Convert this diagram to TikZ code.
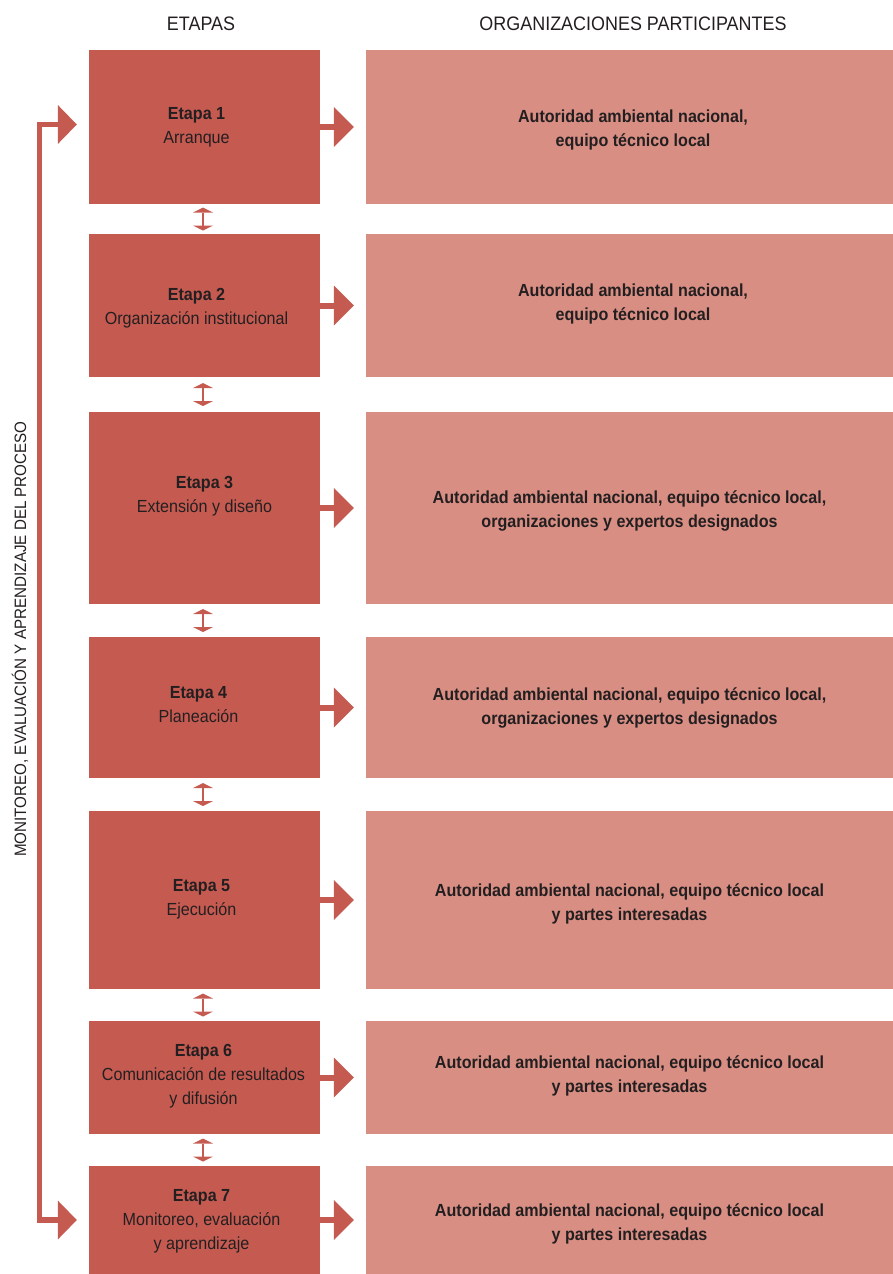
\documentclass[tikz,border=0pt]{standalone}
\usepackage{fontspec}
\setmainfont[FakeStretch=0.92]{Liberation Sans}
\usetikzlibrary{arrows.meta,calc}
\definecolor{stagered}{HTML}{C55A51}
\definecolor{orgpink}{HTML}{D98E83}
\definecolor{ink}{HTML}{231F20}
\begin{document}
\begin{tikzpicture}[x=1pt,y=-1pt,
  stagebox/.style={fill=stagered, minimum width=231pt, inner sep=0pt},
  orgbox/.style={fill=orgpink, minimum width=527pt, inner sep=0pt},
  stagetext/.style={align=center, inner sep=0pt, text=ink, font=\fontsize{17.5}{24}\selectfont},
  orgtext/.style={align=center, inner sep=0pt, text=ink, font=\fontsize{17.5}{24}\selectfont\bfseries},
  header/.style={text=ink, font=\fontsize{19.5}{22}\selectfont},
  flow/.style={draw=stagered, line width=6pt,
    -{Triangle[length=20pt,width=40pt,line width=0pt]}, shorten >=12pt},
  feedback/.style={draw=stagered, line width=5.5pt, line join=miter,
    {Triangle[length=19pt,width=39pt,line width=0pt]}-{Triangle[length=19pt,width=39pt,line width=0pt]},
    shorten >=12pt, shorten <=12pt},
  link/.style={draw=stagered, line width=2.5pt,
    {Triangle[length=5pt,width=20pt,line width=0pt]}-{Triangle[length=5pt,width=20pt,line width=0pt]}}
]
\useasboundingbox (0,0) rectangle (893,1274);

% column headers
\node[header] (hstage) at (201,24) {ETAPAS};
\node[header] (horg) at (633,24) {ORGANIZACIONES PARTICIPANTES};

% stage boxes (left) and participating organisation boxes (right)
\node[stagebox, minimum height=154pt] (l1) at (204.5,127) {};
\node[orgbox,   minimum height=154pt] (r1) at (629.5,127) {};
\node[stagebox, minimum height=143pt] (l2) at (204.5,305.5) {};
\node[orgbox,   minimum height=143pt] (r2) at (629.5,305.5) {};
\node[stagebox, minimum height=192pt] (l3) at (204.5,508) {};
\node[orgbox,   minimum height=192pt] (r3) at (629.5,508) {};
\node[stagebox, minimum height=141pt] (l4) at (204.5,707.5) {};
\node[orgbox,   minimum height=141pt] (r4) at (629.5,707.5) {};
\node[stagebox, minimum height=178pt] (l5) at (204.5,900) {};
\node[orgbox,   minimum height=178pt] (r5) at (629.5,900) {};
\node[stagebox, minimum height=113pt] (l6) at (204.5,1077.5) {};
\node[orgbox,   minimum height=113pt] (r6) at (629.5,1077.5) {};
\node[stagebox, minimum height=108pt] (l7) at (204.5,1220) {};
\node[orgbox,   minimum height=108pt] (r7) at (629.5,1220) {};

% box texts
\node[stagetext] (t1) at ($(l1.center)+(-8,0)$) {\textbf{Etapa 1}\\Arranque};
\node[stagetext] (t2) at ($(l2.center)+(-8,3)$) {\textbf{Etapa 2}\\Organización institucional};
\node[stagetext] (t3) at ($(l3.center)+(0,-12)$) {\textbf{Etapa 3}\\Extensión y diseño};
\node[stagetext] (t4) at ($(l4.center)+(-6,-3)$) {\textbf{Etapa 4}\\Planeación};
\node[stagetext] (t5) at ($(l5.center)+(-3,-1)$) {\textbf{Etapa 5}\\Ejecución};
\node[stagetext] (t6) at ($(l6.center)+(-1,-1)$) {\textbf{Etapa 6}\\Comunicación de resultados\\y difusión};
\node[stagetext] (t7) at ($(l7.center)+(-3,1)$) {\textbf{Etapa 7}\\Monitoreo, evaluación\\y aprendizaje};

\node[orgtext] (o1) at ($(r1.center)+(3.5,3)$) {Autoridad ambiental nacional,\\equipo técnico local};
\node[orgtext] (o2) at ($(r2.center)+(3.5,-2)$) {Autoridad ambiental nacional,\\equipo técnico local};
\node[orgtext] (o3) at ($(r3.center)+(0,3)$) {Autoridad ambiental nacional, equipo técnico local,\\organizaciones y expertos designados};
\node[orgtext] (o4) at ($(r4.center)+(0,0)$) {Autoridad ambiental nacional, equipo técnico local,\\organizaciones y expertos designados};
\node[orgtext] (o5) at ($(r5.center)+(0,4)$) {Autoridad ambiental nacional, equipo técnico local\\y partes interesadas};
\node[orgtext] (o6) at ($(r6.center)+(0,-2)$) {Autoridad ambiental nacional, equipo técnico local\\y partes interesadas};
\node[orgtext] (o7) at ($(r7.center)+(0,4)$) {Autoridad ambiental nacional, equipo técnico local\\y partes interesadas};

% stage -> organisations
\foreach \i in {1,...,7} {
  \draw[flow] (l\i.east) -- (r\i.west);
}

% two-way links between consecutive stages
\foreach \i/\j in {1/2,2/3,3/4,4/5,5/6,6/7} {
  \draw[link] ($(l\i.south)!.5!(l\j.north)+(-1.5,-11.5)$) -- ($(l\i.south)!.5!(l\j.north)+(-1.5,11.5)$);
}

% monitoring loop on the left
\coordinate (fbcorner) at (39.5,1220);
\draw[feedback] ([yshift=2.5pt]l1.west) -| (fbcorner) -- (l7.west);
\node[rotate=90, text=ink, font=\fontsize{16.5}{20}\selectfont] (fbtext) at (20,639)
  {MONITOREO, EVALUACIÓN Y APRENDIZAJE DEL PROCESO};
\end{tikzpicture}
\end{document}
